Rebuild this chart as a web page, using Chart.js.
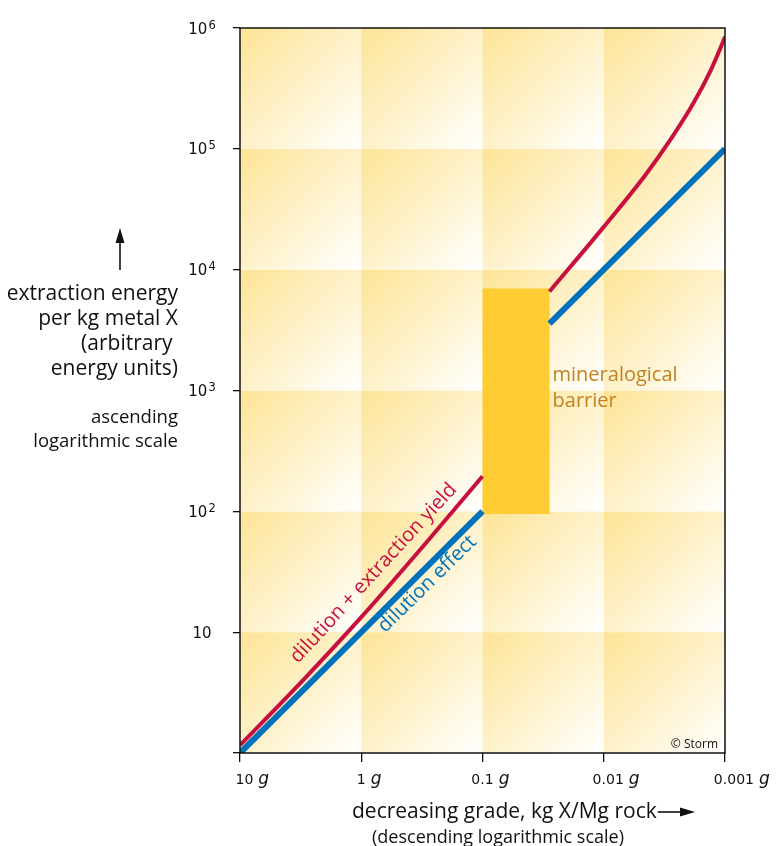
<!DOCTYPE html>
<html>
<head>
<meta charset="utf-8">
<script src="https://cdn.jsdelivr.net/npm/chart.js@4.4.1/dist/chart.umd.min.js"></script>
<style>
  html, body { margin: 0; padding: 0; background: #fff; }
  #wrap { width: 777px; height: 846px; position: relative; }
</style>
</head>
<body>
<div id="wrap"><canvas id="grafico"></canvas></div>
<script>
// grade axis (kg X / Mg rock, shown in g), runs from rich to poor
const gradeTicks = [10, 1, 0.1, 0.01, 0.001]
const gradeTickText = ['10', '1', '0.1', '0.01', '0.001']

// energy axis
const energyTicks = [1, 10, 100, 1000, 10000, 100000, 1000000]
const energyTickBase = ['', '10', '10', '10', '10', '10', '10']
const energyTickExp = ['', '', '2', '3', '4', '5', '6']

// dilution effect (blue)
const dilutionLowGrade = [10, 0.1]
const dilutionLowEnergy = [1, 100]
const dilutionHighGrade = [0.028, 0.001]
const dilutionHighEnergy = [3570, 100000]

// dilution + extraction yield (red)
const yieldLowGrade = [10, 3, 1, 0.3, 0.1]
const yieldLowEnergy = [1.16, 4.03, 13.3, 53.2, 195]
const yieldHighGrade = [0.028, 0.01, 0.0045, 0.0028, 0.0018, 0.0013, 0.00108, 0.001]
const yieldHighEnergy = [6600, 22600, 61400, 120200, 243800, 455000, 698000, 845000]

// mineralogical barrier
const barrierGrade = [0.1, 0.028]
const barrierEnergy = [95, 7000]

const RED = '#c8103f'
const BLUE = '#0072bc'
const GOLD = '#ffcc33'
const FONT = '"Open Sans", "DejaVu Sans", sans-serif'
const NUMFONT = '"DejaVu Sans", sans-serif'

function pts(xs, ys) {
    return xs.map((v, i) => ({ x: v, y: ys[i] }))
}

function barrierShape() {
    return [
        { x: barrierGrade[0], y: barrierEnergy[0] },
        { x: barrierGrade[0], y: barrierEnergy[1] },
        { x: barrierGrade[1], y: barrierEnergy[1] },
        { x: barrierGrade[1], y: barrierEnergy[0] }
    ]
}

function arrow(ctx, x0, y0, x1, y1) {
    const ang = Math.atan2(y1 - y0, x1 - x0)
    const head = 15, half = 4.5
    ctx.beginPath()
    ctx.moveTo(x0, y0)
    ctx.lineTo(x1 - Math.cos(ang) * head * 0.8, y1 - Math.sin(ang) * head * 0.8)
    ctx.stroke()
    ctx.beginPath()
    ctx.moveTo(x1, y1)
    ctx.lineTo(x1 - Math.cos(ang) * head - Math.sin(ang) * half, y1 - Math.sin(ang) * head + Math.cos(ang) * half)
    ctx.lineTo(x1 - Math.cos(ang) * head + Math.sin(ang) * half, y1 - Math.sin(ang) * head - Math.cos(ang) * half)
    ctx.closePath()
    ctx.fill()
}

function rotatedText(ctx, text, px, py, deg, color) {
    ctx.save()
    ctx.translate(px, py)
    ctx.rotate(deg * Math.PI / 180)
    ctx.fillStyle = color
    ctx.textAlign = 'left'
    ctx.textBaseline = 'alphabetic'
    ctx.fillText(text, 0, 0)
    ctx.restore()
}

const decorPlugin = {
    id: 'decor',
    beforeDraw(chart) {
        const { ctx, scales: { x, y } } = chart
        ctx.save()
        for (let i = 0; i < gradeTicks.length - 1; i++) {
            for (let j = 0; j < energyTicks.length - 1; j++) {
                const x0 = x.getPixelForValue(gradeTicks[i])
                const x1 = x.getPixelForValue(gradeTicks[i + 1])
                const y0 = y.getPixelForValue(energyTicks[j + 1])
                const y1 = y.getPixelForValue(energyTicks[j])
                const g = ctx.createLinearGradient(x0, y0, x1, y1)
                g.addColorStop(0, '#fde495')
                g.addColorStop(1, '#ffffff')
                ctx.fillStyle = g
                ctx.fillRect(x0, y0, x1 - x0, y1 - y0)
            }
        }
        ctx.restore()
    },
    afterDraw(chart) {
        const { ctx, chartArea: a, scales: { x, y } } = chart
        ctx.save()

        // frame
        ctx.strokeStyle = '#111'
        ctx.lineWidth = 1.5
        ctx.strokeRect(a.left, a.top, a.right - a.left, a.bottom - a.top)

        // energy tick labels with superscript
        ctx.fillStyle = '#111'
        ctx.textAlign = 'left'
        ctx.textBaseline = 'alphabetic'
        energyTicks.forEach((v, i) => {
            if (!energyTickBase[i]) return
            const cy = y.getPixelForValue(v)
            ctx.font = '15px ' + NUMFONT
            const wb = ctx.measureText(energyTickBase[i]).width
            ctx.font = '11.5px ' + NUMFONT
            const we = energyTickExp[i] ? ctx.measureText(energyTickExp[i]).width + 1 : 0
            const left = a.left - 38 - (wb + we) / 2
            ctx.font = '15px ' + NUMFONT
            ctx.fillText(energyTickBase[i], left, cy + 5.5)
            if (energyTickExp[i]) {
                ctx.font = '11.5px ' + NUMFONT
                ctx.fillText(energyTickExp[i], left + wb + 1, cy + 0.5)
            }
        })

        // grade tick labels: number + italic g
        gradeTicks.forEach((v, i) => {
            const t = gradeTickText[i]
            const cx = x.getPixelForValue(v)
            ctx.font = '14px ' + NUMFONT
            let off
            const dot = t.indexOf('.')
            if (dot >= 0) {
                off = ctx.measureText(t.slice(0, dot)).width + ctx.measureText('.').width / 2
            } else {
                off = ctx.measureText(t[0]).width / 2
            }
            const left = cx - off
            ctx.fillText(t, left, a.bottom + 31)
            const w = ctx.measureText(t).width
            ctx.font = 'italic 17px ' + NUMFONT
            ctx.fillText('g', left + w + 5, a.bottom + 31)
        })

        // y axis title
        ctx.textAlign = 'right'
        ctx.font = '21px ' + FONT
        const tx = a.left - 62
        ctx.fillText('extraction energy', tx, 300)
        ctx.fillText('per kg metal X', tx, 325)
        ctx.fillText('(arbitrary ', tx, 350)
        ctx.fillText('energy units)', tx, 375)
        ctx.font = '18.5px ' + FONT
        ctx.fillText('ascending', tx, 423)
        ctx.fillText('logarithmic scale', tx, 447)
        ctx.strokeStyle = '#111'
        ctx.lineWidth = 1.6
        arrow(ctx, 120, 270, 120, 228)

        // x axis title
        ctx.textAlign = 'left'
        ctx.font = '21px ' + FONT
        const title = 'decreasing grade, kg X/Mg rock'
        ctx.fillText(title, 352, 818)
        const tw = ctx.measureText(title).width
        arrow(ctx, 352 + tw + 1, 812, 695, 812)
        ctx.font = '18px ' + FONT
        ctx.fillText('(descending logarithmic scale)', 372, 843)

        // copyright
        ctx.textAlign = 'right'
        ctx.font = '12px ' + FONT
        ctx.fillText('\u00a9 Storm', a.right - 7, a.bottom - 5)

        // mineralogical barrier label
        ctx.textAlign = 'left'
        ctx.fillStyle = '#c4811f'
        ctx.font = '20px ' + FONT
        const bx = x.getPixelForValue(barrierGrade[1]) + 3
        const by = y.getPixelForValue(1200)
        ctx.fillText('mineralogical', bx, by)
        ctx.fillText('barrier', bx, by + 26)

        // line labels
        ctx.font = '20px ' + FONT
        rotatedText(ctx, 'dilution + extraction yield', x.getPixelForValue(3.32), y.getPixelForValue(5.44), -47.5, RED)
        rotatedText(ctx, 'dilution effect', x.getPixelForValue(0.633), y.getPixelForValue(9.8), -44.5, BLUE)

        ctx.restore()
    }
}

const ctx = document.getElementById('grafico')

new Chart(ctx, {
    type: 'line',
    data: {
        datasets: [
            { data: pts(yieldLowGrade, yieldLowEnergy), borderColor: RED, borderWidth: 4, cubicInterpolationMode: 'monotone', clip: 0, order: 1 },
            { data: pts(yieldHighGrade, yieldHighEnergy), borderColor: RED, borderWidth: 4, cubicInterpolationMode: 'monotone', clip: 0, order: 1 },
            { data: pts(dilutionLowGrade, dilutionLowEnergy), borderColor: BLUE, borderWidth: 6, clip: 0, order: 2 },
            { data: pts(dilutionHighGrade, dilutionHighEnergy), borderColor: BLUE, borderWidth: 6, clip: 0, order: 2 },
            { data: barrierShape(), fill: 'shape', backgroundColor: GOLD, borderColor: GOLD, borderWidth: 0, order: 5 }
        ]
    },
    options: {
        responsive: true,
        maintainAspectRatio: false,
        animation: false,
        events: [],
        layout: { padding: { left: 233, right: 52, top: 28, bottom: 84 } },
        plugins: { legend: { display: false }, tooltip: { enabled: false } },
        elements: { point: { radius: 0 } },
        scales: {
            x: {
                type: 'logarithmic',
                reverse: true,
                min: 0.001,
                max: 10,
                afterBuildTicks: s => { s.ticks = gradeTicks.map(v => ({ value: v })) },
                ticks: { display: false },
                grid: { drawOnChartArea: false, drawTicks: true, tickLength: 9, color: '#111', lineWidth: 1.3 },
                border: { display: false }
            },
            y: {
                type: 'logarithmic',
                min: 1,
                max: 1000000,
                afterBuildTicks: s => { s.ticks = energyTicks.map(v => ({ value: v })) },
                ticks: { display: false },
                grid: { drawOnChartArea: false, drawTicks: true, tickLength: 7, color: '#111', lineWidth: 1.3 },
                border: { display: false }
            }
        }
    },
    plugins: [decorPlugin]
})
</script>
</body>
</html>
